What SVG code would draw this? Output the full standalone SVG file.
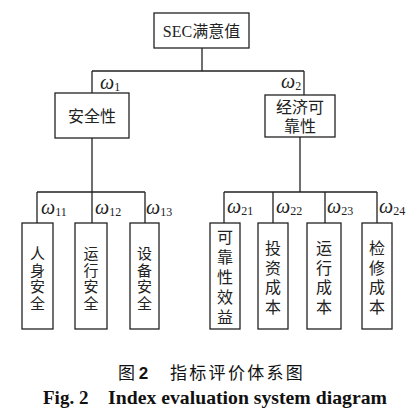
<svg xmlns="http://www.w3.org/2000/svg" width="417" height="411" viewBox="0 0 417 411">
<style>
.box{fill:#fff;stroke:#222;stroke-width:1.3}
.ln{fill:none;stroke:#222;stroke-width:1.3}
.t{font-family:"Liberation Serif","Noto Sans CJK SC",serif;font-size:16px;fill:#222;text-anchor:middle}
.v{font-family:"Noto Sans CJK SC",sans-serif;font-size:16px;fill:#222;text-anchor:middle}
.vt{font-family:"Noto Sans CJK SC",sans-serif;font-size:16px;fill:#222;writing-mode:vertical-rl;text-anchor:start;letter-spacing:3.5px}
.vs{font-size:15px;letter-spacing:1.6px}
.v5{letter-spacing:4px}
.w{font-family:"Liberation Serif",serif;font-style:italic;font-size:20px;fill:#222}
.s{font-style:normal;font-size:12px}
.cap{font-family:"Noto Sans CJK SC",sans-serif;font-size:17px;fill:#111}
.en{font-family:"Liberation Serif",serif;font-weight:bold;font-size:19px;fill:#111}
</style>
<rect width="417" height="411" fill="#fff"/>
<g id="connectors">
<path class="ln" d="M202,48 V71 M92,71 H304 M92,71 V93 M304,71 V95"/>
<path class="ln" d="M92,138 V192 M37,192 H145 M37,192 V223 M92,192 V223 M145,192 V223"/>
<path class="ln" d="M300,137 V192 M224,192 H377 M224,192 V223 M273,192 V223 M325,192 V223 M377,192 V223"/>
<text class="w" x="100" y="89">ω<tspan class="s" dy="2">1</tspan></text>
<text class="w" x="281" y="88">ω<tspan class="s" dy="2">2</tspan></text>
<text class="w" x="41" y="214">ω<tspan class="s" dy="2">11</tspan></text>
<text class="w" x="95" y="214">ω<tspan class="s" dy="2">12</tspan></text>
<text class="w" x="146" y="214">ω<tspan class="s" dy="2">13</tspan></text>
<text class="w" x="227" y="213">ω<tspan class="s" dy="2">21</tspan></text>
<text class="w" x="276" y="213">ω<tspan class="s" dy="2">22</tspan></text>
<text class="w" x="327" y="213">ω<tspan class="s" dy="2">23</tspan></text>
<text class="w" x="379" y="213">ω<tspan class="s" dy="2">24</tspan></text>
</g>
<g id="root">
<rect class="box" x="154" y="13" width="95" height="35"/>
<text class="t" x="201.5" y="37">SEC满意值</text>
</g>
<g id="safety">
<rect class="box" x="55" y="93" width="74" height="45"/>
<text class="v" x="92" y="122">安全性</text>
</g>
<g id="econ">
<rect class="box" x="265" y="95" width="70" height="42"/>
<text class="v" x="300" y="113">经济可<tspan x="300" dy="19">靠性</tspan></text>
</g>
<g id="n11">
<rect class="box" x="22" y="223" width="31" height="106"/>
<text class="vt vs" x="37.5" y="246">人身安全</text>
</g>
<g id="n12">
<rect class="box" x="75" y="223" width="32" height="106"/>
<text class="vt vs" x="91" y="246">运行安全</text>
</g>
<g id="n13">
<rect class="box" x="130" y="223" width="29" height="106"/>
<text class="vt vs" x="144.5" y="246">设备安全</text>
</g>
<g id="n21">
<rect class="box" x="210" y="223" width="30" height="106"/>
<text class="vt v5" x="225" y="229">可靠性效益</text>
</g>
<g id="n22">
<rect class="box" x="258" y="223" width="30" height="106"/>
<text class="vt" x="273" y="240">投资成本</text>
</g>
<g id="n23">
<rect class="box" x="307" y="223" width="34" height="106"/>
<text class="vt" x="324" y="240">运行成本</text>
</g>
<g id="n24">
<rect class="box" x="362" y="223" width="30" height="106"/>
<text class="vt" x="377" y="240">检修成本</text>
</g>
<g id="caption">
<text class="cap" x="118" y="379">图 <tspan font-family="Liberation Sans" font-weight="bold">2</tspan></text>
<text class="cap" x="170" y="379" letter-spacing="2.3">指标评价体系图</text>
<text class="en" x="43" y="404">Fig. 2</text>
<text class="en" x="108" y="404" textLength="279" lengthAdjust="spacingAndGlyphs">Index evaluation system diagram</text>
</g>
</svg>
